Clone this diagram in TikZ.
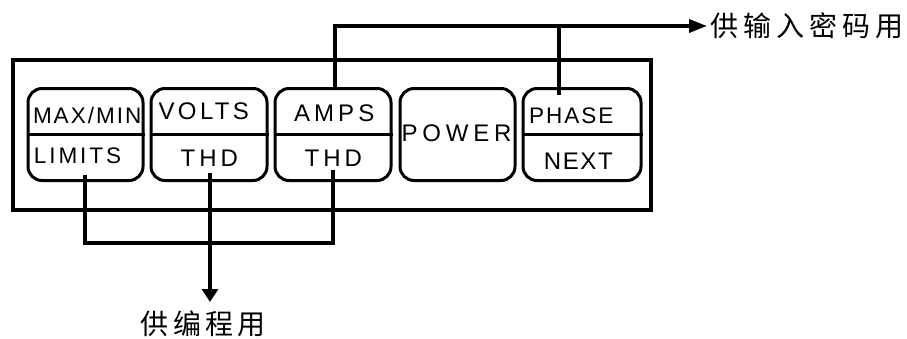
\documentclass[tikz,border=0pt]{standalone}
\usepackage{fontspec}
\setmainfont{Liberation Sans}
\newfontfamily\cjk{Noto Sans CJK SC}
\usetikzlibrary{arrows.meta}
\tikzset{
  panel/.style={draw, line width=4pt},
  btn/.style={draw, line width=3pt, rounded corners=14pt, minimum width=115pt, minimum height=92pt, inner sep=0pt},
  divider/.style={line width=3pt},
  lbl/.style={inner sep=0pt, font=\fontsize{24}{28}\selectfont},
  lbls/.style={inner sep=0pt, font=\fontsize{22.5}{26}\selectfont},
  cjklbl/.style={inner sep=0pt, font=\fontsize{28}{32}\selectfont\cjk},
  conn/.style={line width=3.5pt},
}
\newcommand{\ls}[2]{{\addfontfeature{LetterSpace=#1}#2}}
\begin{document}
\begin{tikzpicture}[x=1pt,y=-1pt]
\useasboundingbox (0,0) rectangle (907,338);
% panel
\node[panel, minimum width=638pt, minimum height=150pt, inner sep=0pt] (panel) at (332,135) {};
% buttons
\node[btn] (b1) at (85.5,134.5) {};
\node[btn, minimum width=116pt] (b2) at (209,134.5) {};
\node[btn, minimum width=116pt] (b3) at (333,134.5) {};
\node[btn] (b4) at (457.5,134.5) {};
\node[btn, minimum width=118pt] (b5) at (582,134.5) {};
\foreach \b in {b1,b2,b3,b5} \draw[divider] (\b.west) -- (\b.east);
% labels
\node[lbls] (t1a) at (87.2,115) {\ls{9}{MAX/MIN}};
\node[lbls] (t1b) at (77.5,155.5) {\ls{13}{LIMITS}};
\node[lbl] (t2a) at (203.8,111.7) {\ls{14}{VOLTS}};
\node[lbl] (t2b) at (209.3,158.3) {\ls{17}{THD}};
\node[lbl] (t3a) at (334.2,113.3) {\ls{17}{AMPS}};
\node[lbl] (t3b) at (333.3,158.3) {\ls{17}{THD}};
\node[lbl] (t4) at (456.5,133) {\ls{20}{POWER}};
\node[lbls] (t5a) at (571.3,115.5) {\ls{9}{PHASE}};
\node[lbl] (t5b) at (578.3,161.7) {\ls{7}{NEXT}};
% chinese labels
\node[cjklbl, anchor=west] (pw) at (710.5,26) {\ls{18}{供输入密码用}};
\node[cjklbl] (prog) at (203.3,324) {\ls{16}{供编程用}};
% connection points
\coordinate (a3) at ([xshift=2pt]b3.north);
\coordinate (p5) at (559,95);
\coordinate (l1) at (85,175);
\coordinate (l2) at (210,173);
\coordinate (l3) at (333,170);
\coordinate (bus) at (85,243);
\coordinate (tip) at (210,302);
\coordinate (rtip) at (707,26);
% connectors
\draw[conn, -{Triangle[length=18pt,width=13pt]}] (a3) |- (rtip);
\draw[conn] (p5) -- (p5 |- rtip);
\draw[conn] (l1) -- (bus) -| (l3);
\draw[conn, -{Triangle[length=13pt,width=16pt]}] (l2) -- (tip);
\end{tikzpicture}
\end{document}
